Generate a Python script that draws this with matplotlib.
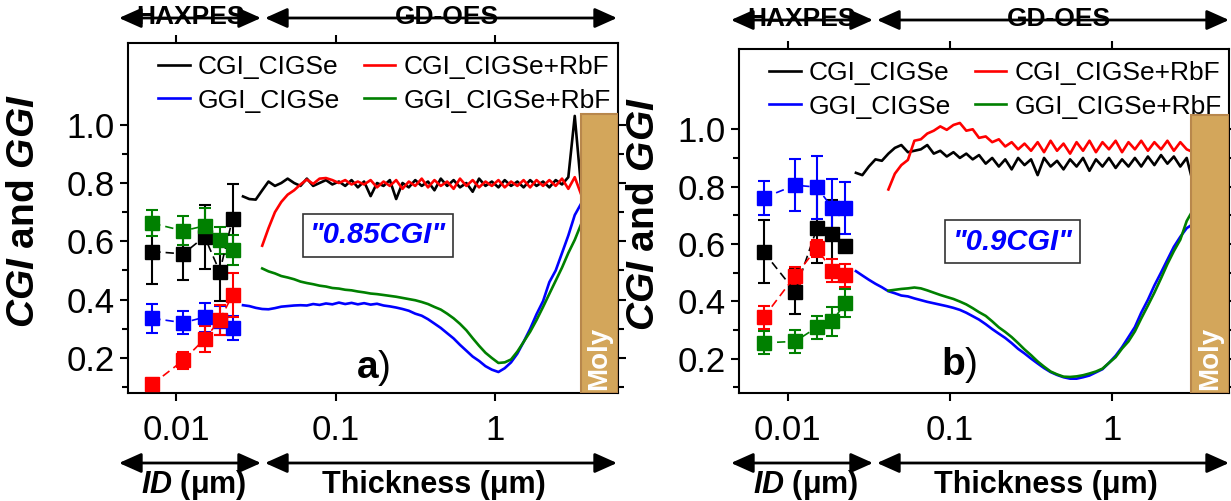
import matplotlib
matplotlib.use("Agg")
import matplotlib.pyplot as plt
import numpy as np
from matplotlib.patches import Rectangle
from matplotlib.ticker import FixedLocator, NullLocator

plt.rcParams['font.family'] = ['Liberation Sans', 'DejaVu Sans']
plt.rcParams['mathtext.fontset'] = 'custom'
plt.rcParams['mathtext.rm'] = 'Liberation Sans'
plt.rcParams['mathtext.it'] = 'Liberation Sans:italic'
plt.rcParams['mathtext.bf'] = 'Liberation Sans:bold'
plt.rcParams['mathtext.bfit'] = 'Liberation Sans:italic:bold'

labels = ['CGI_CIGSe', 'GGI_CIGSe', 'CGI_CIGSe+RbF', 'GGI_CIGSe+RbF']
colors = ['#000000', '#0000FF', '#FF0000', '#008000']

# HAXPES: information depth (um)
id_um = [0.0071, 0.0111, 0.0151, 0.0188, 0.0226]

# panel a) HAXPES values and error bars
cgi_a = [0.565, 0.557, 0.616, 0.496, 0.677]
cgi_a_err = [0.11, 0.09, 0.11, 0.10, 0.12]
ggi_a = [0.336, 0.321, 0.340, 0.328, 0.303]
ggi_a_err = [0.05, 0.04, 0.05, 0.05, 0.04]
cgi_rb_a = [0.110, 0.192, 0.265, 0.330, 0.416]
cgi_rb_a_err = [0.01, 0.03, 0.045, 0.05, 0.075]
ggi_rb_a = [0.662, 0.636, 0.653, 0.603, 0.570]
ggi_rb_a_err = [0.045, 0.05, 0.06, 0.045, 0.05]

# panel b) HAXPES values and error bars
cgi_b = [0.572, 0.434, 0.654, 0.634, 0.593]
cgi_b_err = [0.11, 0.08, 0.12, 0.12, 0.02]
ggi_b = [0.761, 0.805, 0.798, 0.726, 0.726]
ggi_b_err = [0.06, 0.09, 0.11, 0.10, 0.09]
cgi_rb_b = [0.344, 0.489, 0.585, 0.506, 0.491]
cgi_rb_b_err = [0.04, 0.03, 0.03, 0.04, 0.04]
ggi_rb_b = [0.255, 0.260, 0.309, 0.330, 0.394]
ggi_rb_b_err = [0.04, 0.04, 0.04, 0.05, 0.05]

# GD-OES depth profiles, thickness (um)
t_gd = [0.0263, 0.0288, 0.0316, 0.0347, 0.0380, 0.0417, 0.0457, 0.0501, 0.0550,
        0.0603, 0.0661, 0.0724, 0.0794, 0.0871, 0.0955, 0.105, 0.115, 0.126,
        0.138, 0.151, 0.166, 0.182, 0.200, 0.219, 0.240, 0.263, 0.288, 0.316,
        0.347, 0.380, 0.417, 0.457, 0.501, 0.550, 0.603, 0.661, 0.724, 0.794,
        0.871, 0.955, 1.05, 1.15, 1.26, 1.38, 1.51, 1.66, 1.82, 2.00, 2.19,
        2.40, 2.63, 2.88, 3.16, 3.47]
nan = np.nan

cgi_gd_a = [0.754, 0.745, 0.743, 0.775, 0.805, 0.79, 0.80, 0.815, 0.80,
            0.79, 0.815, 0.79, 0.80, 0.81, 0.795, 0.805, 0.79, 0.81,
            0.785, 0.805, 0.755, 0.80, 0.79, 0.81, 0.745, 0.80, 0.785, 0.81,
            0.79, 0.805, 0.775, 0.815, 0.79, 0.81, 0.785, 0.80, 0.77, 0.815,
            0.79, 0.805, 0.785, 0.81, 0.79, 0.805, 0.785, 0.81, 0.79, 0.805, 0.785,
            0.81, 0.795, 0.82, 1.03, 0.78]
ggi_gd_a = [0.381, 0.378, 0.372, 0.368, 0.367, 0.371, 0.376, 0.378, 0.380,
            0.381, 0.380, 0.385, 0.382, 0.387, 0.384, 0.390, 0.385, 0.389,
            0.384, 0.388, 0.383, 0.386, 0.380, 0.377, 0.373, 0.368, 0.362, 0.352,
            0.345, 0.333, 0.318, 0.303, 0.285, 0.267, 0.245, 0.225, 0.205, 0.190,
            0.172, 0.160, 0.152, 0.165, 0.185, 0.215, 0.255, 0.300, 0.350, 0.395, 0.460,
            0.500, 0.560, 0.620, 0.690, 0.730]
cgi_rb_gd_a = [nan, nan, nan, 0.585, 0.645, 0.70, 0.735, 0.76, 0.775,
               0.795, 0.812, 0.797, 0.815, 0.817, 0.81, 0.80, 0.81, 0.795,
               0.805, 0.795, 0.81, 0.785, 0.805, 0.79, 0.81, 0.78, 0.805, 0.79,
               0.815, 0.785, 0.81, 0.79, 0.805, 0.78, 0.815, 0.79, 0.81, 0.785,
               0.805, 0.79, 0.81, 0.785, 0.805, 0.79, 0.81, 0.785, 0.81, 0.79, 0.81,
               0.79, 0.815, 0.78, 0.82, 0.76]
ggi_rb_gd_a = [nan, nan, nan, 0.507, 0.497, 0.490, 0.481, 0.476, 0.470,
               0.462, 0.457, 0.453, 0.448, 0.445, 0.440, 0.438, 0.434, 0.432,
               0.428, 0.425, 0.421, 0.419, 0.416, 0.413, 0.410, 0.406, 0.402, 0.398,
               0.392, 0.385, 0.375, 0.366, 0.352, 0.336, 0.317, 0.295, 0.268, 0.242,
               0.218, 0.200, 0.183, 0.185, 0.195, 0.222, 0.255, 0.290, 0.330, 0.375, 0.420,
               0.465, 0.510, 0.560, 0.605, 0.660]

cgi_gd_b = [0.848, 0.84, 0.87, 0.895, 0.89, 0.915, 0.935, 0.945, 0.92,
            0.925, 0.93, 0.945, 0.915, 0.925, 0.905, 0.92, 0.90, 0.915,
            0.895, 0.91, 0.88, 0.90, 0.87, 0.895, 0.86, 0.90, 0.875, 0.895,
            0.84, 0.90, 0.87, 0.89, 0.86, 0.895, 0.87, 0.90, 0.855, 0.895,
            0.87, 0.90, 0.865, 0.895, 0.87, 0.90, 0.87, 0.905, 0.875, 0.91, 0.88,
            0.905, 0.87, 0.90, 0.81, 0.82]
ggi_gd_b = [0.505, 0.490, 0.475, 0.461, 0.449, 0.435, 0.428, 0.420, 0.417,
            0.410, 0.404, 0.398, 0.393, 0.388, 0.383, 0.377, 0.370, 0.360,
            0.348, 0.336, 0.320, 0.303, 0.287, 0.272, 0.254, 0.234, 0.218, 0.200,
            0.183, 0.167, 0.153, 0.143, 0.135, 0.130, 0.130, 0.135, 0.141, 0.152,
            0.163, 0.185, 0.210, 0.240, 0.275, 0.310, 0.360, 0.405, 0.455, 0.500, 0.545,
            0.590, 0.625, 0.655, 0.670, 0.690]
cgi_rb_gd_b = [nan, nan, nan, nan, nan, 0.79, 0.845, 0.875, 0.893,
               0.96, 0.965, 0.985, 0.995, 1.01, 0.998, 1.015, 1.022, 0.995,
               1.00, 0.97, 0.975, 0.955, 0.965, 0.94, 0.955, 0.93, 0.95, 0.925,
               0.955, 0.92, 0.96, 0.925, 0.95, 0.915, 0.955, 0.925, 0.96, 0.92,
               0.955, 0.93, 0.96, 0.92, 0.955, 0.93, 0.96, 0.925, 0.955, 0.93, 0.96,
               0.925, 0.955, 0.93, 0.92, 0.93]
ggi_rb_gd_b = [nan, nan, nan, nan, nan, 0.437, 0.440, 0.443, 0.445,
               0.448, 0.445, 0.438, 0.430, 0.422, 0.415, 0.408, 0.399, 0.389,
               0.376, 0.362, 0.349, 0.330, 0.309, 0.293, 0.275, 0.254, 0.232, 0.212,
               0.190, 0.172, 0.155, 0.145, 0.137, 0.136, 0.138, 0.142, 0.148, 0.155,
               0.165, 0.185, 0.205, 0.235, 0.260, 0.295, 0.340, 0.385, 0.430, 0.480, 0.530,
               0.575, 0.615, 0.680, 0.720, 0.750]

W, H = 1231, 501


def draw_panel(ax, haxpes, haxpes_err, profiles, moly_start, moly_top, xmax, box_text, box_pos, tag, tag_pos):
    for vals, err, c in zip(haxpes, haxpes_err, colors):
        ax.errorbar(id_um, vals, yerr=err, color=c, ls=(0, (5, 3)), lw=1.2,
                    marker='s', ms=10, mec=c, mfc=c, capsize=4, elinewidth=1.5,
                    capthick=1.5, zorder=4)
    for vals, c, lab in zip(profiles, colors, labels):
        ax.plot(t_gd, vals, color=c, lw=1.9, label=lab, zorder=2)

    ax.add_patch(Rectangle((moly_start, 0.08), xmax - moly_start, moly_top - 0.08,
                           facecolor='#D3A65B', edgecolor='#B8874C', lw=1.5, zorder=5))
    ax.text(np.sqrt(moly_start * xmax), 0.092, 'Moly', rotation=90, color='white',
            fontsize=20, fontweight='bold', ha='center', va='bottom', zorder=6)

    ax.set_xscale('log')
    ax.set_xlim(0.005, xmax)
    ax.set_ylim(0.08, 1.28)
    ax.xaxis.set_major_locator(FixedLocator([0.01, 0.1, 1]))
    ax.xaxis.set_minor_locator(NullLocator())
    ax.set_xticklabels(['0.01', '0.1', '1'])
    ax.yaxis.set_major_locator(FixedLocator([0.2, 0.4, 0.6, 0.8, 1.0]))
    ax.yaxis.set_minor_locator(FixedLocator([0.1, 0.3, 0.5, 0.7, 0.9]))
    ax.set_yticklabels(['0.2', '0.4', '0.6', '0.8', '1.0'])
    ax.tick_params(which='both', direction='out', top=True, right=True,
                   labeltop=False, labelright=False, width=1.5, labelsize=25)
    ax.tick_params(which='major', length=6)
    ax.tick_params(axis='x', pad=9)
    ax.tick_params(which='minor', length=4)
    for s in ax.spines.values():
        s.set_linewidth(1.5)

    ax.set_ylabel(r'$\mathbfit{CGI}$ and $\mathbfit{GGI}$', fontsize=28, fontweight='bold')

    ax.legend(ncol=2, loc='upper left', bbox_to_anchor=(0.04, 0.995), frameon=False,
              fontsize=19, handlelength=1.2, handletextpad=0.3, columnspacing=0.9,
              labelspacing=0.35, borderaxespad=0)

    ax.text(box_pos[0], box_pos[1], box_text, transform=ax.transAxes, color='#0000FF',
            fontsize=21, fontweight='bold', style='italic', ha='center', va='center',
            bbox=dict(boxstyle='square,pad=0.25', fc='white', ec='#333333', lw=1.2))
    ax.text(tag_pos[0], tag_pos[1], r'$\mathbf{' + tag + '}$)', transform=ax.transAxes,
            fontsize=28, ha='center', va='center')


def arrow(fig, x0, x1, y):
    fig.add_artist(matplotlib.patches.FancyArrowPatch(
        (x0 / W, 1 - y / H), (x1 / W, 1 - y / H), transform=fig.transFigure,
        arrowstyle='<|-|>,head_length=0.85,head_width=0.38', mutation_scale=16,
        color='black', lw=2, shrinkA=0, shrinkB=0))


fig = plt.figure(figsize=(W / 100, H / 100), dpi=100)
ax_a = fig.add_axes([128 / W, 1 - 393 / H, 490 / W, 350 / H])
ax_b = fig.add_axes([739 / W, 1 - 393 / H, 490 / W, 344 / H])

draw_panel(ax_a, [cgi_a, ggi_a, cgi_rb_a, ggi_rb_a],
           [cgi_a_err, ggi_a_err, cgi_rb_a_err, ggi_rb_a_err],
           [cgi_gd_a, ggi_gd_a, cgi_rb_gd_a, ggi_rb_gd_a],
           3.47, 1.035, 5.9, '"0.85CGI"', (0.51, 0.45), 'a', (0.50, 0.07))
ax_a.yaxis.set_label_coords(-0.175, 0.52)

draw_panel(ax_b, [cgi_b, ggi_b, cgi_rb_b, ggi_rb_b],
           [cgi_b_err, ggi_b_err, cgi_rb_b_err, ggi_rb_b_err],
           [cgi_gd_b, ggi_gd_b, cgi_rb_gd_b, ggi_rb_gd_b],
           3.07, 1.05, 5.25, '"0.9CGI"', (0.558, 0.44), 'b', (0.45, 0.08))
ax_b.yaxis.set_label_coords(-0.157, 0.52)

# technique / depth-scale arrows
for off, (h0, h1, g0, g1) in zip([0, 611], [(119, 261, 265, 617), (731, 873, 877, 1229)]):
    ytop = 18 if off == 0 else 20
    fig.text((h0 + h1) / 2 / W, 1 - (ytop - 1) / H, 'HAXPES', fontsize=19, fontweight='bold',
             ha='center', va='center')
    fig.text((g0 + g1) / 2 / W + 0.005, 1 - (ytop - 1) / H, 'GD-OES', fontsize=19, fontweight='bold',
             ha='center', va='center')
    arrow(fig, h0, h1, ytop)
    arrow(fig, g0, g1, ytop)
    arrow(fig, h0, h1, 463)
    arrow(fig, g0, g1, 463)
    fig.text((h0 + h1) / 2 / W + 0.003, 1 - 485 / H, r'$\mathbfit{ID}$ (μm)', fontsize=22,
             fontweight='bold', ha='center', va='center')
    fig.text((g0 + g1) / 2 / W - 0.006, 1 - 485 / H, 'Thickness (μm)', fontsize=22,
             fontweight='bold', ha='center', va='center')

plt.savefig('out.png', dpi=100)
plt.close()
